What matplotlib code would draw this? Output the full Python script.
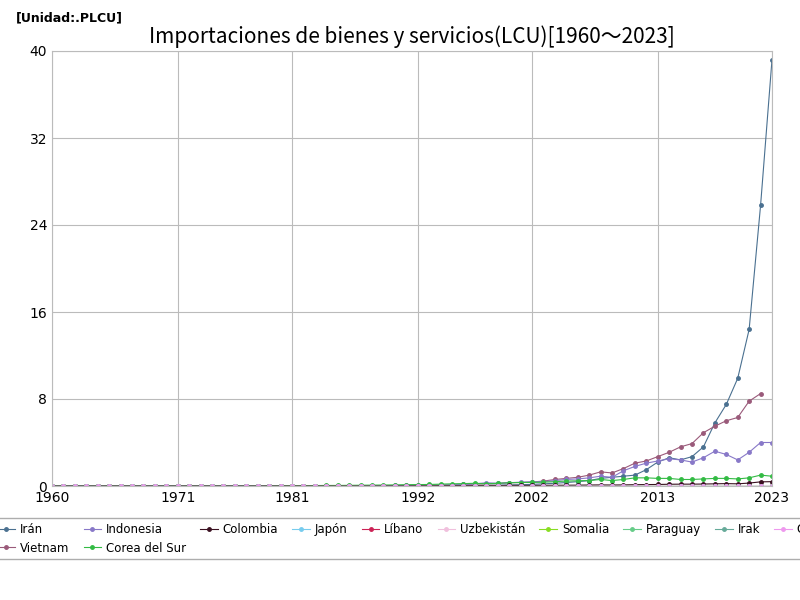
import matplotlib
matplotlib.use("Agg")
import matplotlib.pyplot as plt

years = list(range(1960, 2024))
iran_y = list(range(1960, 2024))
iran = [0.0]*33 + [0.02,0.02,0.03,0.04,0.05,0.06,0.08,0.1,0.12,0.15,0.2,0.25,0.32,0.4,0.5,0.7,0.8,0.9,1.0,1.5,2.2,2.6,2.4,2.7,3.6,5.8,7.5,9.9,14.4,25.8,39.2]
viet_y = list(range(1986, 2023))
vietnam = [0.0,0.0,0.0,0.01,0.01,0.02,0.03,0.05,0.07,0.1,0.14,0.17,0.2,0.22,0.3,0.32,0.37,0.45,0.6,0.7,0.8,1.0,1.3,1.2,1.6,2.1,2.3,2.7,3.1,3.6,3.9,4.9,5.5,6.0,6.3,7.8,8.5]
indo_y = list(range(1960, 2024))
indonesia = [0.0]*30 + [0.05,0.06,0.07,0.08,0.1,0.12,0.14,0.2,0.3,0.25,0.3,0.35,0.38,0.4,0.5,0.6,0.65,0.75,0.9,0.8,1.4,1.8,2.1,2.3,2.5,2.4,2.2,2.6,3.2,2.9,2.4,3.1,4.0,4.0]
korea = [0.0]*20 + [0.02,0.03,0.03,0.04,0.05,0.05,0.06,0.07,0.08,0.09,0.1,0.12,0.13,0.14,0.17,0.2,0.22,0.25,0.2,0.25,0.3,0.32,0.33,0.35,0.4,0.45,0.48,0.5,0.6,0.5,0.6,0.75,0.75,0.7,0.7,0.6,0.6,0.65,0.7,0.7,0.65,0.75,1.0,0.9]
colombia = [0.0]*30 + [0.01,0.01,0.02,0.02,0.03,0.03,0.04,0.04,0.04,0.04,0.05,0.05,0.05,0.06,0.07,0.07,0.08,0.09,0.1,0.09,0.1,0.12,0.13,0.14,0.16,0.17,0.17,0.18,0.2,0.22,0.2,0.27,0.38,0.4]
small = [0.0]*64

fig, ax = plt.subplots(figsize=(8, 6), dpi=100)
fig.subplots_adjust(left=0.065, right=0.965, top=0.915, bottom=0.19)
series = [
    ("Irán", iran_y, iran, "#4a7090"),
    ("Vietnam", viet_y, vietnam, "#9a5a7a"),
    ("Indonesia", indo_y, indonesia, "#8878c8"),
    ("Corea del Sur", years, korea, "#33bb44"),
    ("Colombia", years, colombia, "#3a1020"),
    ("Japón", years, small, "#77ccee"),
    ("Líbano", years, small, "#cc2255"),
    ("Uzbekistán", years, small, "#f0c0dd"),
    ("Somalia", years, small, "#88dd22"),
    ("Paraguay", years, small, "#66cc88"),
    ("Irak", years, small, "#66aa99"),
    ("Chile", years, small, "#ee99ee"),
]
for name, x, y, c in series:
    ax.plot(x, y, color=c, lw=0.8, marker="o", ms=2.5, label=name)

ax.set_xlim(1960, 2023)
ax.set_ylim(0, 40)
ax.set_xticks([1960, 1971, 1981, 1992, 2002, 2013, 2023])
ax.set_yticks(range(0, 41, 8))
ax.grid(True, color="#bbbbbb", lw=0.8)
ax.tick_params(length=0, labelsize=10)
for s in ax.spines.values():
    s.set_color("#bbbbbb")
ax.set_title("Importaciones de bienes y servicios(LCU)[1960～2023]", fontsize=15, family="Noto Sans CJK JP")
fig.text(0.02, 0.965, "[Unidad:.PLCU]", fontsize=9, fontweight="bold")
ax.legend(loc="upper center", bbox_to_anchor=(0.5, -0.06), ncol=10, fontsize=8.5,
          frameon=True, edgecolor="#999999", handlelength=1.5, columnspacing=1.2, handletextpad=0.4)
fig.savefig("out.png")
